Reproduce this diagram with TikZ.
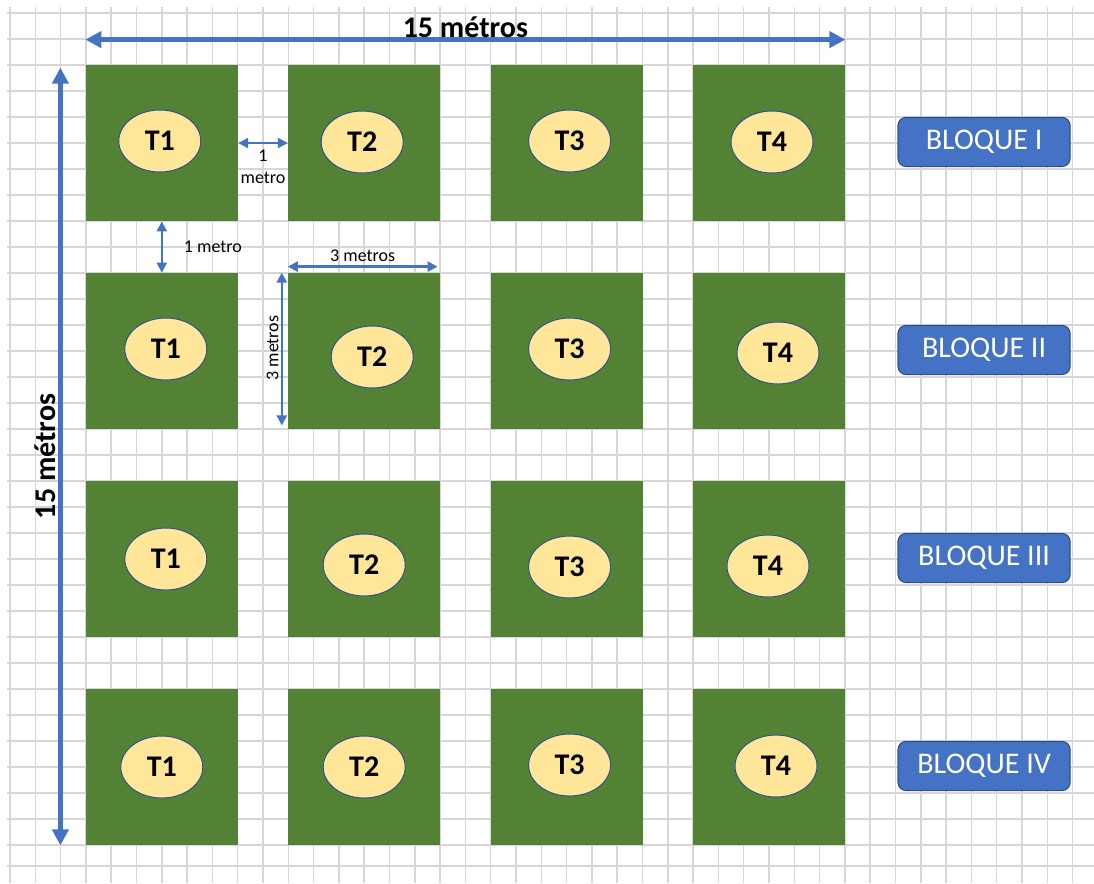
\documentclass[tikz,border=0pt]{standalone}
\usepackage{fontspec}
\setmainfont{Carlito}
\usepackage{xcolor}
\definecolor{plotGreen}{HTML}{548235}
\definecolor{treatFill}{HTML}{FFE699}
\definecolor{treatLine}{HTML}{2F528F}
\definecolor{dimBlue}{HTML}{4472C4}
\definecolor{gridGray}{HTML}{D6D6D6}
\usetikzlibrary{arrows.meta, positioning, shapes.geometric}

\begin{document}
\begin{tikzpicture}[x=12.65pt, y=-13pt,
    plot/.style={fill=plotGreen, minimum width=76pt, minimum height=78pt, inner sep=0pt},
    treat/.style={ellipse, draw=treatLine, line width=0.5pt, fill=treatFill, minimum width=41pt, minimum height=31pt, inner sep=0pt, font=\fontsize{15}{17}\selectfont\bfseries},
    bloque/.style={rounded corners=4pt, draw=treatLine, line width=0.6pt, fill=dimBlue, text=white, minimum width=86pt, minimum height=24.5pt, font=\fontsize{15}{17}\selectfont},
    bigdim/.style={dimBlue, line width=2.5pt, {Triangle[length=8pt,width=8pt]}-{Triangle[length=8pt,width=8pt]}},
    dim/.style={dimBlue, line width=1.2pt, {Triangle[length=5pt,width=5pt]}-{Triangle[length=5pt,width=5pt]}},
    dimlabel/.style={text=black, font=\fontsize{9}{11}\selectfont, inner sep=1pt},
    biglabel/.style={text=black, font=\fontsize{15}{17}\selectfont\bfseries, inner sep=1pt}]
    \useasboundingbox (-0.395,-0.5) rectangle (42.846,33.462);
    % grid paper
    \foreach \i in {0,...,42}
        \draw[gridGray, line width=0.75pt] (\i,-0.23) -- (\i,33.462);
    \foreach \j in {0,...,32}
        \draw[gridGray, line width=0.75pt] (-0.12,\j) -- (42.846,\j);
    \draw[gridGray, line width=0.75pt] (-0.12,32.81) -- (42.846,32.81);
    % plots
    \foreach \r in {1,...,4}
        \foreach \c in {1,...,4}
            \node[plot] (p\r\c) at ({6+8*(\c-1)},{5+8*(\r-1)}) {};
    % treatments
    \foreach \r/\c/\dx/\dy in {1/1/-1/1, 1/2/-1/0.5, 1/3/1.5/1, 1/4/1.5/0.5,
                               2/1/2/1, 2/2/4/-3, 2/3/1.5/1, 2/4/4.5/-1,
                               3/1/2/0, 3/2/0/-3, 3/3/1.5/-4, 3/4/-0.5/-3.5,
                               4/1/0/0, 4/2/0/0, 4/3/1.5/1, 4/4/3.5/0.5}
        \node[treat] (t\r\c) at ([xshift=\dx pt, yshift=\dy pt]p\r\c) {T\c};
    % blocks
    \foreach \r/\name in {1/I, 2/II, 3/III, 4/IV}
        \node[bloque] (b\r) at (38.5,{5+8*(\r-1)-0.04}) {BLOQUE \name};
    % overall size
    \draw[bigdim] ([yshift=12.5pt]p11.north west) -- node[above=-1.5pt, biglabel] (top) {15 métros} ([yshift=12.5pt]p14.north east);
    \draw[bigdim] ([xshift=-12.5pt, yshift=-1.5pt]p11.north west) -- node[above=0pt, rotate=90, biglabel] (side) {15 métros} ([xshift=-12.5pt]p41.south west);
    % spacing and plot size
    \draw[dim] (p11.east) -- node[below=2pt, align=center, dimlabel] (gapx) {1\\metro} (p12.west);
    \draw[dim] (p11.south) -- node[right=9.5pt, dimlabel] (gapy) {1 metro} (p21.north);
    \draw[dim] ([yshift=3pt]p22.north west) -- node[above=1pt, dimlabel] (sizex) {3 metros} ([xshift=-1.5pt, yshift=3pt]p22.north east);
    \draw[dim] ([xshift=-3pt]p22.north west) -- node[above=0.5pt, rotate=90, dimlabel] (sizey) {3 metros} ([xshift=-3pt, yshift=2pt]p22.south west);
\end{tikzpicture}
\end{document}
